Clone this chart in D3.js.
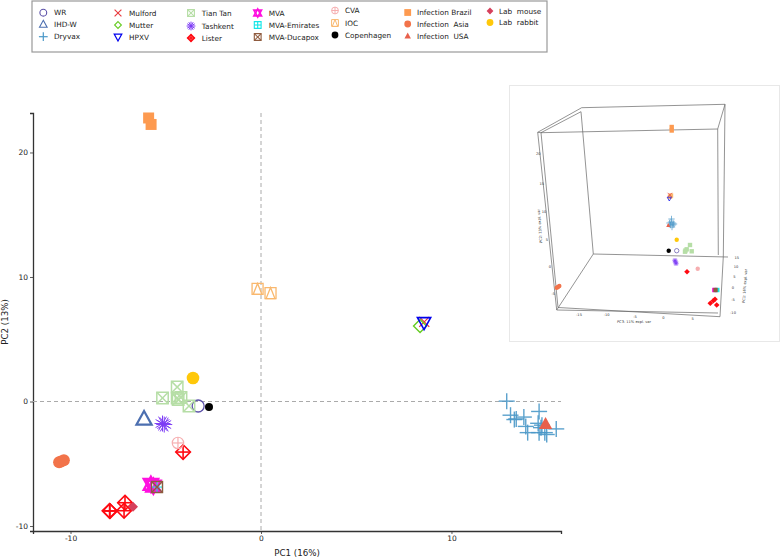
<!DOCTYPE html>
<html><head><meta charset="utf-8">
<script src="https://cdn.jsdelivr.net/npm/d3@7"></script>
<style>html,body{margin:0;padding:0;background:#fff}svg{display:block}text{font-family:"DejaVu Sans",sans-serif;white-space:pre}</style>
</head><body><svg id="c" width="780" height="558"></svg>
<script>
// ---- data: PC1 / PC2
const groups=["WR","IHD-W","Dryvax","Mulford","Mutter","HPXV","Tian Tan","Tashkent","Lister","MVA","MVA-Emirates","MVA-Ducapox","CVA","IOC","Copenhagen","Infection Brazil","Infection  Asia","Infection  USA","Lab  mouse","Lab  rabbit"];
const wrPts=[[-3.3,-0.36]];
const ihdPts=[[-6.14,-1.4]];
const dryvaxPts=[[12.9,0.03],[13.1,-1.1],[13.4,-1.4],[13.3,-1.45],[13.8,-1.25],[13.9,-2.0],[14.0,-2.5],[14.6,-0.8],[14.55,-1.75],[14.7,-2.1],[14.6,-2.5],[14.9,-2.5],[15.0,-2.65],[15.5,-2.2],[14.75,-1.9]];
const mulfordPts=[[8.57,6.4]];
const mutterPts=[[8.35,6.06]];
const hpxvPts=[[8.56,6.33]];
const tianTanPts=[[-4.4,1.16],[-5.17,0.28],[-4.4,0.28],[-4.2,0.32],[-4.35,0.15],[-3.78,-0.36]];
const tashkentPts=[[-5.17,-1.77],[-5.08,-1.85]];
const listerPts=[[-4.09,-4.06],[-7.93,-8.8],[-7.95,-8.78],[-7.14,-8.13],[-7.19,-8.77]];
const mvaPts=[[-5.78,-6.65],[-5.65,-6.8]];
const emiratesPts=[[-5.46,-6.87]];
const ducapoxPts=[[-5.46,-6.87]];
const cvaPts=[[-4.36,-3.33]];
const iocPts=[[-0.18,9.04],[0.5,8.71]];
const copenhagenPts=[[-2.73,-0.44]];
const brazilPts=[[-5.9,22.77],[-5.77,22.25]];
const asiaPts=[[-10.6,-4.88],[-10.5,-4.82],[-10.35,-4.72]];
const usaPts=[[14.94,-1.8]];
const mousePts=[[-6.72,-8.45]];
const rabbitPts=[[-3.57,1.89]];
const mainData=[wrPts,ihdPts,dryvaxPts,mulfordPts,mutterPts,hpxvPts,tianTanPts,tashkentPts,listerPts,mvaPts,emiratesPts,ducapoxPts,cvaPts,iocPts,copenhagenPts,brazilPts,asiaPts,usaPts,mousePts,rabbitPts];
const xTicks=[-10,0,10], yTicks=[-10,0,10,20];
const xLabel="PC1 (16%)", yLabel="PC2 (13%)";

// inset (projected 3D view, in inset screen units)
const insetPts=[
 [0,[[676.7,250.7]]],[2,[[671,222],[673,225],[670.5,225],[672,227],[673,223],[671.5,219],[674,224],[669.5,223]]],
 [13,[[670,196.7],[671,195.5]]],[3,[[669.8,195]]],[5,[[669.3,198.8]]],
 [17,[[668.3,225.3]]],[19,[[676.7,239.7]]],[14,[[668.7,250.7]]],
 [6,[[690,245],[691.7,251.3],[685,251.7],[686.7,249.3],[685.5,250.5]]],[7,[[675,260.7],[676,263.3]]],
 [8,[[687,271.7],[710.3,303.3],[713.3,300.7],[715,299.3],[716.7,305]]],[12,[[697.7,268.7]]],
 [10,[[717.3,290]]],[9,[[714.3,290]]],[11,[[715.5,290]]],[16,[[556.7,287.7],[558,287],[559.3,286]]],[15,[[671.7,127],[671.7,130.5]]]];
const wireSegs=[
 [[537.7,132.3],[581.7,107.7]],[[581.7,107.7],[725,104.3]],[[725,104.3],[717.7,129]],[[541,132.7],[581,111.7]],[[541,132.7],[717.7,129]],
 [[537.7,132.3],[541,132.7]],[[581,111.7],[593.3,254]],[[717.7,129],[718.3,255]],[[725,104.3],[723.3,256.7]],[[723.3,256.7],[720,316.7]],
 [[593.3,254],[728,257]],[[593.3,254],[556.7,310]],[[556.7,310],[718,313]],[[558,307.5],[720,316.7]],[[537.7,132.3],[556.7,310]],[[541,132.7],[558,307.5]]];
const insetZTicks=[["20",538.3,154],["15",541.7,183.3],["10",544,212],["5",547,240],["0",550,266.7],["-5",553.3,293.3]];
const insetXTicks=[["-15",579,314.3],["-10",606.7,315],["-5",635,316.7],["0",663.3,317.3],["5",692.7,318.3]];
const insetYTicks=[["15",736.7,257.3],["10",736,266.7],["5",734.3,276.7],["0",733,287.3],["-5",733,299.3],["-10",733,312.3]];

// ---- style / layout
const colors=["#5b50a8","#4c6fb0","#4a98c8","#e8383c","#66cc22","#0000ee","#b6dea6","#7d3cf5","#ff0a12","#ff10e0","#12e6e6","#8f5b3e","#f6aeb0","#f9b86e","#000000","#fd9a50","#f2734a","#e8604c","#d6405c","#ffc80a"];
const kinds=["circle","tri","plus","x","diamond","triDown","squareX","burst","diamondPlus","hexagram","squarePlus","squareX","circlePlus","squareTri","dot","fillSquare","fillCircle","fillTri","fillDiamond","fillCircle"];
const sizes=[6,8,8,5,6.5,7,5.7,8,7.3,7.5,5.5,5.5,5.7,5.5,4,5.5,6,7,5,6.3];
const widths=[1.3,2.2,1.4,1.2,1.4,1.6,1.5,1,1.6,2.4,1.1,1.4,1.2,1.3,1,1,1,1,1,1];
const legCols=[43.3,118,191,257.7,335,407.7,490], legText=[54,129,201.7,268.7,345,417,499];
const legRows=[[12.7,24.3,36.7],[13,25,37],[13,26,38],[13,25,37],[10.5,23,35],[12.5,24,36],[11,22.5]];
const legWeight=[1.1,1.1,1.2,1.1,1.1,1.2,1.1,1,1.5,1.7,1.1,1.1,1,1,1,1,1,1,1,1];

const svg=d3.select("#c");
const x=d3.scaleLinear().domain([-11.97,15.75]).range([33,561]);
const y=d3.scaleLinear().domain([-10.4,23.17]).range([531,113]);
const line=d3.line();

function marker(g,k,c,r,w,op){
  const n=g.append("g").attr("fill","none").attr("stroke",c).attr("stroke-width",w).attr("opacity",op);
  const P=a=>n.append("path").attr("d",line(a)+"Z");
  const L=a=>n.append("path").attr("d",line(a));
  const F=s=>s.attr("fill",c).attr("stroke","none");
  const sq=()=>P([[-r,-r],[r,-r],[r,r],[-r,r]]);
  const tri=(s=1)=>P([[0,-s*r],[r*.95,s*r*.72],[-r*.95,s*r*.72]]);
  if(k==="circle")n.append("circle").attr("r",r);
  if(k==="dot"||k==="fillCircle")F(n.append("circle").attr("r",r));
  if(k==="tri")tri();
  if(k==="triDown")tri(-1);
  if(k==="fillTri")F(tri());
  if(k==="plus"){L([[-r,0],[r,0]]);L([[0,-r],[0,r]]);}
  if(k==="x"){L([[-r,-r],[r,r]]);L([[-r,r],[r,-r]]);}
  if(k==="diamond")P([[0,-r],[r,0],[0,r],[-r,0]]);
  if(k==="fillDiamond")F(P([[0,-r],[r,0],[0,r],[-r,0]]));
  if(k==="fillSquare")F(sq());
  if(k==="squareX"){sq();L([[-r,-r],[r,r]]);L([[-r,r],[r,-r]]);}
  if(k==="squarePlus"){sq();L([[-r,0],[r,0]]);L([[0,-r],[0,r]]);}
  if(k==="squareTri"){sq();P([[0,-r],[r*.8,r],[-r*.8,r]]);}
  if(k==="burst"){d3.range(6).forEach(i=>{const a=i*Math.PI/6;L([[-r*Math.cos(a),-r*Math.sin(a)],[r*Math.cos(a),r*Math.sin(a)]]);});}
  if(k==="diamondPlus"){P([[0,-r],[r,0],[0,r],[-r,0]]);L([[-r,0],[r,0]]);L([[0,-r],[0,r]]);}
  if(k==="circlePlus"){n.append("circle").attr("r",r);L([[-r,0],[r,0]]);L([[0,-r],[0,r]]);}
  if(k==="hexagram"){tri();tri(-1);}
  return n;
}

// legend frame
svg.append("rect").attr("x",32).attr("y",1).attr("width",515).attr("height",51).attr("fill","#fff").attr("stroke","#999").attr("stroke-width",1.2);
let gi=0;
legRows.forEach((rows,ci)=>rows.forEach(ry=>{
  const i=gi++;
  const g=svg.append("g").attr("transform",`translate(${legCols[ci]},${ry})`);
  const big=["plus","burst"].includes(kinds[i]);
  marker(g,kinds[i],colors[i],big?4.4:(kinds[i]==="tri"||kinds[i]==="triDown"||kinds[i]==="hexagram"?4:3.4),legWeight[i],1);
  svg.append("text").attr("x",legText[ci]).attr("y",ry+2.7).attr("font-size",7.3).attr("fill","#222").text(groups[i]);
}));

// main axes
const ax=svg.append("g").attr("transform","translate(0,531)").call(d3.axisBottom(x).tickValues(xTicks).tickSize(3).tickPadding(2).tickFormat(String));
const ay=svg.append("g").attr("transform","translate(33,0)").call(d3.axisLeft(y).tickValues(yTicks).tickSize(3).tickPadding(2).tickFormat(String));
[ax,ay].forEach(a=>{a.selectAll("text").attr("font-size",7.5).attr("font-family","DejaVu Sans").attr("fill","#222");a.selectAll("path").attr("stroke","#333").attr("stroke-width",1.3);a.selectAll("line").attr("stroke","#333").attr("stroke-width",.8);});
svg.append("line").attr("x1",x.range()[0]).attr("x2",x.range()[1]).attr("y1",y(0)).attr("y2",y(0)).attr("stroke","#aaa").attr("stroke-dasharray","4,3");
svg.append("line").attr("x1",x(0)).attr("x2",x(0)).attr("y1",y.range()[1]).attr("y2",y.range()[0]).attr("stroke","#aaa").attr("stroke-dasharray","4,3");
svg.append("text").attr("x",297).attr("y",556).attr("text-anchor","middle").attr("font-size",8.7).attr("fill","#222").text(xLabel);
svg.append("text").attr("transform","translate(8,322) rotate(-90)").attr("text-anchor","middle").attr("font-size",8.7).attr("fill","#222").text(yLabel);

// main points
mainData.forEach((pts,i)=>pts.forEach(p=>{
  const g=svg.append("g").attr("transform",`translate(${x(p[0])},${y(p[1])})`);
  marker(g,kinds[i],colors[i],sizes[i],widths[i],kinds[i]==="plus"?.9:1);
}));

// inset
svg.append("rect").attr("x",509.5).attr("y",85.5).attr("width",270).attr("height",256).attr("fill","#fff").attr("stroke","#e8e8e8");
const ix=d3.scaleIdentity(), iy=d3.scaleIdentity();
wireSegs.forEach(s=>svg.append("path").attr("d",d3.line().x(d=>ix(d[0])).y(d=>iy(d[1]))(s)).attr("stroke","#666").attr("stroke-width",.7).attr("fill","none"));
[...insetZTicks,...insetXTicks,...insetYTicks].forEach(t=>svg.append("text").attr("x",ix(t[1])).attr("y",iy(t[2])+1.2).attr("text-anchor","middle").attr("font-size",3.6).attr("fill","#333").text(t[0]));
svg.append("text").attr("x",634).attr("y",323).attr("text-anchor","middle").attr("font-size",3.6).attr("fill","#333").text("PC3: 11% expl. var");
svg.append("text").attr("transform","translate(746,286) rotate(-86)").attr("text-anchor","middle").attr("font-size",3.6).attr("fill","#333").text("PC1: 16% expl. var");
svg.append("text").attr("transform","translate(541,226) rotate(-94)").attr("text-anchor","middle").attr("font-size",3.6).attr("fill","#333").text("PC2: 13% expl. var");
insetPts.forEach(([i,pts])=>pts.forEach(p=>{
  const g=svg.append("g").attr("transform",`translate(${ix(p[0])},${iy(p[1])})`);
  const k=kinds[i];
  const solid=["squareX","squarePlus","hexagram","squareTri","diamondPlus","circlePlus"].includes(k);
  const kk=solid?(k.startsWith("square")||k==="hexagram"?"fillSquare":k==="circlePlus"?"fillCircle":"fillDiamond"):k;
  marker(g,kk,colors[i],kk==="plus"?3.2:kk==="burst"?2.6:kk==="fillDiamond"?2.8:2.2,.7,1);
}));
</script></body></html>
